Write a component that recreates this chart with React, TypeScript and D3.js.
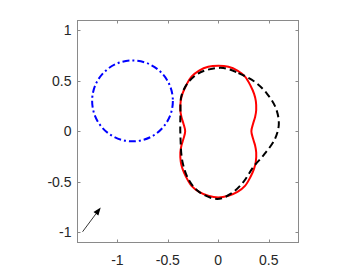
import React, { useEffect, useRef } from "react";
import * as d3 from "d3";

// tick values / labels
const xTicks = [-1, -0.5, 0, 0.5];
const yTicks = [-1, -0.5, 0, 0.5, 1];

// blue dash-dot circle: center and radius
const circleCenter = [-0.85, 0.3];
const circleRadius = 0.4;

// red solid peanut outline (clockwise from the top)
const redX = [0, 0.1, 0.19, 0.265, 0.32, 0.355, 0.372, 0.376, 0.365, 0.345, 0.328,
  0.345, 0.365, 0.376, 0.372, 0.355, 0.32, 0.265, 0.19, 0.1,
  0, -0.1, -0.19, -0.265, -0.32, -0.355, -0.372, -0.376, -0.365, -0.345, -0.328,
  -0.345, -0.365, -0.376, -0.372, -0.355, -0.32, -0.265, -0.19, -0.1];
const redY = [0.648, 0.638, 0.6, 0.54, 0.45, 0.37, 0.3, 0.21, 0.14, 0.075, 0,
  -0.075, -0.14, -0.21, -0.3, -0.37, -0.45, -0.54, -0.6, -0.638,
  -0.655, -0.638, -0.6, -0.54, -0.45, -0.37, -0.3, -0.21, -0.14, -0.075, 0,
  0.075, 0.14, 0.21, 0.3, 0.37, 0.45, 0.54, 0.6, 0.638];

// black dashed deformed outline
const blackX = [0.05, 0.2, 0.36, 0.48, 0.57, 0.6, 0.56, 0.45, 0.35, 0.25, 0.13, -0.01, -0.19, -0.29, -0.355, -0.375, -0.375, -0.365, -0.3, -0.2, -0.09];
const blackY = [0.625, 0.575, 0.49, 0.375, 0.23, 0.07, -0.08, -0.235, -0.35, -0.5, -0.615, -0.67, -0.6, -0.485, -0.3, -0.05, 0.17, 0.35, 0.48, 0.57, 0.612];

// small arrow: tail -> head
const arrowX = [-1.345, -1.165];
const arrowY = [-0.994, -0.753];

const W = 364;
const H = 273;

const App = () => {
  const svgRef = useRef<SVGSVGElement>(null);

  useEffect(() => {
    const svg = d3.select(svgRef.current);
    svg.selectAll("*").remove();

    const x = d3.scaleLinear().domain([-1.4, 0.8]).range([77, 299]);
    const y = d3.scaleLinear().domain([-1.1, 1.1]).range([242.5, 20]);

    const axisColor = "#8a8a8a";
    const textColor = "#262626";
    const font = "Liberation Sans, Arial, sans-serif";

    svg.append("rect").attr("width", W).attr("height", H).attr("fill", "#fff");

    const g = svg.append("g");

    // box
    g.append("rect")
      .attr("x", 77.5)
      .attr("y", 20.5)
      .attr("width", 221)
      .attr("height", 222)
      .attr("fill", "none")
      .attr("stroke", axisColor)
      .attr("stroke-width", 1);

    const tl = 3;
    xTicks.forEach((t) => {
      const px = Math.round(x(t)) + 0.5;
      g.append("line").attr("x1", px).attr("x2", px).attr("y1", 242.5).attr("y2", 242.5 - tl).attr("stroke", axisColor);
      g.append("line").attr("x1", px).attr("x2", px).attr("y1", 20.5).attr("y2", 20.5 + tl).attr("stroke", axisColor);
      g.append("text")
        .attr("x", x(t))
        .attr("y", 260)
        .attr("text-anchor", "middle")
        .attr("dominant-baseline", "central")
        .attr("font-family", font)
        .attr("font-size", 14)
        .attr("fill", textColor)
        .text(String(t));
    });
    yTicks.forEach((t) => {
      const py = Math.round(y(t)) + 0.5;
      g.append("line").attr("x1", 77.5).attr("x2", 77.5 + tl).attr("y1", py).attr("y2", py).attr("stroke", axisColor);
      g.append("line").attr("x1", 298.5).attr("x2", 298.5 - tl).attr("y1", py).attr("y2", py).attr("stroke", axisColor);
      g.append("text")
        .attr("x", 71.5)
        .attr("y", y(t))
        .attr("text-anchor", "end")
        .attr("dominant-baseline", "central")
        .attr("font-family", font)
        .attr("font-size", 14)
        .attr("fill", textColor)
        .text(String(t));
    });

    // blue circle
    g.append("ellipse")
      .attr("cx", x(circleCenter[0]))
      .attr("cy", y(circleCenter[1]))
      .attr("rx", x(circleRadius) - x(0))
      .attr("ry", y(0) - y(circleRadius))
      .attr("fill", "none")
      .attr("stroke", "#0000ff")
      .attr("stroke-width", 2)
      .attr("stroke-dasharray", "7,3,2,3");

    const redPts = redX.map((v, i) => [x(v), y(redY[i])] as [number, number]);
    const blackPts = blackX.map((v, i) => [x(v), y(blackY[i])] as [number, number]);

    g.append("path")
      .attr("d", d3.line().curve(d3.curveCatmullRomClosed.alpha(0.5))(redPts))
      .attr("fill", "none")
      .attr("stroke", "#ff0000")
      .attr("stroke-width", 2);

    g.append("path")
      .attr("d", d3.line().curve(d3.curveCatmullRomClosed.alpha(0.5))(blackPts))
      .attr("fill", "none")
      .attr("stroke", "#000")
      .attr("stroke-width", 2)
      .attr("stroke-dasharray", "7,4");

    // arrow
    const x0 = x(arrowX[0]), y0 = y(arrowY[0]);
    const x1 = x(arrowX[1]), y1 = y(arrowY[1]);
    const ang = Math.atan2(y1 - y0, x1 - x0);
    const hl = 8, hw = 3;
    const bx = x1 - hl * Math.cos(ang), by = y1 - hl * Math.sin(ang);
    g.append("line")
      .attr("x1", x0).attr("y1", y0).attr("x2", bx).attr("y2", by)
      .attr("stroke", "#000").attr("stroke-width", 0.8);
    g.append("path")
      .attr("d", `M${x1},${y1}L${bx + hw * Math.sin(ang)},${by - hw * Math.cos(ang)}L${bx - hw * Math.sin(ang)},${by + hw * Math.cos(ang)}Z`)
      .attr("fill", "#000");
  }, []);

  return (
    <svg
      ref={svgRef}
      width={W}
      height={H}
      style={{ position: "absolute", left: 0, top: 0, display: "block" }}
    />
  );
};

export default App;
